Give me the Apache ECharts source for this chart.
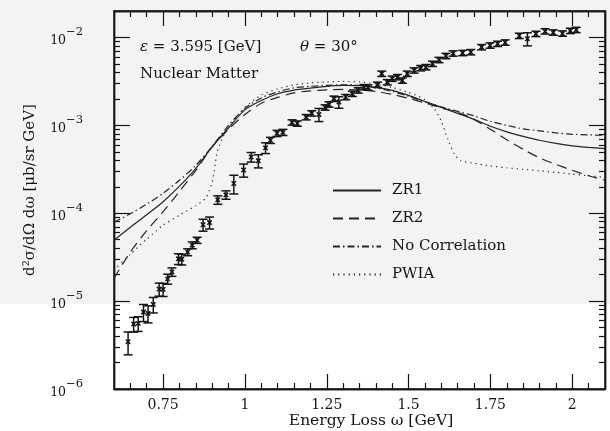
<!DOCTYPE html>
<html>
<head>
<meta charset="utf-8">
<script src="https://cdn.jsdelivr.net/npm/echarts@6/dist/echarts.min.js"></script>
<style>
  html, body { margin: 0; padding: 0; background: #fff; }
  #chart { width: 610px; height: 431px; }
</style>
</head>
<body>
<div id="chart"></div>
<script>
// Inclusive cross section, epsilon = 3.595 GeV, theta = 30 deg, nuclear matter.
// Measured points: energy loss omega [GeV], d2sigma/dOmega domega [ub/sr GeV], relative error.
const dataOmega = [
  0.643, 0.660, 0.674, 0.690, 0.704, 0.720, 0.738, 0.750, 0.764, 0.777,
  0.797, 0.807, 0.825, 0.839, 0.854, 0.872, 0.892, 0.917, 0.942, 0.966,
  0.996, 1.019, 1.041, 1.063, 1.078, 1.098, 1.116, 1.144, 1.160, 1.187,
  1.204, 1.226, 1.245, 1.257, 1.272, 1.287, 1.308, 1.328, 1.346, 1.364,
  1.376, 1.405, 1.418, 1.435, 1.450, 1.466, 1.481, 1.496, 1.517, 1.537,
  1.553, 1.573, 1.593, 1.614, 1.636, 1.665, 1.690, 1.723, 1.749, 1.772,
  1.795, 1.838, 1.863, 1.889, 1.917, 1.942, 1.970, 1.994, 2.012
];
const dataSigma = [
  3.45e-6, 5.48e-6, 5.58e-6, 7.50e-6, 7.24e-6, 9.17e-6, 1.37e-5, 1.36e-5, 1.79e-5, 2.15e-5,
  3.03e-5, 3.00e-5, 3.61e-5, 4.33e-5, 4.93e-5, 7.39e-5, 7.83e-5, 1.42e-4, 1.62e-4, 2.18e-4,
  3.10e-4, 4.36e-4, 3.95e-4, 5.55e-4, 6.76e-4, 8.11e-4, 8.33e-4, 1.08e-3, 1.05e-3, 1.24e-3,
  1.37e-3, 1.33e-3, 1.60e-3, 1.73e-3, 2.01e-3, 1.84e-3, 2.10e-3, 2.29e-3, 2.50e-3, 2.72e-3,
  2.70e-3, 2.90e-3, 3.87e-3, 3.10e-3, 3.40e-3, 3.54e-3, 3.24e-3, 3.87e-3, 4.22e-3, 4.48e-3,
  4.60e-3, 5.02e-3, 5.55e-3, 6.16e-3, 6.58e-3, 6.67e-3, 6.81e-3, 7.76e-3, 8.11e-3, 8.48e-3,
  8.77e-3, 1.045e-2, 9.66e-3, 1.10e-2, 1.175e-2, 1.14e-2, 1.11e-2, 1.19e-2, 1.22e-2
];
const dataRelErr = [
  0.29, 0.19, 0.19, 0.22, 0.22, 0.20, 0.17, 0.17, 0.13, 0.11,
  0.14, 0.14, 0.09, 0.09, 0.08, 0.155, 0.155, 0.11, 0.11, 0.24,
  0.17, 0.125, 0.17, 0.14, 0.08, 0.08, 0.08, 0.07, 0.07, 0.07,
  0.07, 0.17, 0.07, 0.07, 0.07, 0.15, 0.07, 0.07, 0.07, 0.07,
  0.07, 0.07, 0.07, 0.07, 0.07, 0.07, 0.07, 0.07, 0.07, 0.07,
  0.07, 0.07, 0.07, 0.07, 0.07, 0.07, 0.07, 0.07, 0.07, 0.07,
  0.07, 0.07, 0.17, 0.07, 0.07, 0.07, 0.07, 0.07, 0.07
];

// Model calculations on a common omega grid.
const curveOmega = [
  0.60, 0.65, 0.70, 0.75, 0.80, 0.85, 0.90, 0.95, 1.00, 1.05,
  1.10, 1.15, 1.20, 1.25, 1.30, 1.35, 1.40, 1.45, 1.50, 1.55,
  1.60, 1.65, 1.70, 1.75, 1.80, 1.85, 1.90, 1.95, 2.00, 2.05, 2.10
];
const zr1 = [
  4.93e-5, 6.93e-5, 9.60e-5, 1.35e-4, 2.03e-4, 3.24e-4, 5.70e-4, 9.37e-4, 1.50e-3, 1.92e-3,
  2.29e-3, 2.52e-3, 2.65e-3, 2.78e-3, 2.85e-3, 2.83e-3, 2.70e-3, 2.50e-3, 2.19e-3, 1.87e-3,
  1.60e-3, 1.37e-3, 1.17e-3, 9.75e-4, 8.44e-4, 7.50e-4, 6.76e-4, 6.24e-4, 5.85e-4, 5.62e-4, 5.43e-4
];
const zr2 = [
  1.82e-5, 3.61e-5, 6.32e-5, 1.04e-4, 1.77e-4, 3.08e-4, 5.70e-4, 9.01e-4, 1.33e-3, 1.78e-3,
  2.08e-3, 2.34e-3, 2.47e-3, 2.53e-3, 2.56e-3, 2.53e-3, 2.43e-3, 2.25e-3, 2.03e-3, 1.80e-3,
  1.58e-3, 1.41e-3, 1.17e-3, 9.01e-4, 6.84e-4, 5.33e-4, 4.27e-4, 3.60e-4, 3.08e-4, 2.67e-4, 2.37e-4
];
const noCorrelation = [
  7.91e-5, 9.86e-5, 1.27e-4, 1.69e-4, 2.37e-4, 3.51e-4, 5.77e-4, 1.00e-3, 1.56e-3, 2.05e-3,
  2.40e-3, 2.67e-3, 2.78e-3, 2.85e-3, 2.89e-3, 2.85e-3, 2.67e-3, 2.43e-3, 2.14e-3, 1.85e-3,
  1.62e-3, 1.44e-3, 1.28e-3, 1.11e-3, 1.00e-3, 9.12e-4, 8.66e-4, 8.22e-4, 7.91e-4, 7.80e-4, 7.70e-4
];
const pwiaOmega = [
  0.60, 0.65, 0.70, 0.75, 0.80, 0.85, 0.88, 0.90, 0.915, 0.93,
  0.95, 1.00, 1.05, 1.10, 1.15, 1.20, 1.25, 1.30, 1.35, 1.40,
  1.45, 1.50, 1.55, 1.58, 1.60, 1.62, 1.64, 1.66, 1.70, 1.75,
  1.80, 1.85, 1.90, 1.95, 2.00, 2.05, 2.10
];
const pwia = [
  2.25e-5, 3.42e-5, 5.07e-5, 7.31e-5, 9.49e-5, 1.22e-4, 1.48e-4, 2.25e-4, 4.93e-4, 6.93e-4,
  9.49e-4, 1.60e-3, 2.22e-3, 2.60e-3, 2.89e-3, 3.04e-3, 3.12e-3, 3.16e-3, 3.12e-3, 2.96e-3,
  2.70e-3, 2.37e-3, 1.97e-3, 1.52e-3, 1.11e-3, 6.93e-4, 4.68e-4, 3.95e-4, 3.70e-4, 3.46e-4,
  3.29e-4, 3.16e-4, 3.04e-4, 2.92e-4, 2.78e-4, 2.67e-4, 2.56e-4
];

// Axis ticks.
const xMajorTicks = [0.75, 1, 1.25, 1.5, 1.75, 2];
const xMinorTicks = [0.65, 0.7, 0.8, 0.85, 0.9, 0.95, 1.05, 1.1, 1.15, 1.2, 1.3, 1.35, 1.4, 1.45,
                     1.55, 1.6, 1.65, 1.7, 1.8, 1.85, 1.9, 1.95, 2.05];
const yMajorTicks = [1e-6, 1e-5, 1e-4, 1e-3, 1e-2];
const yMinorTicks = [];
for (let d = -6; d <= -3; d++) {
  for (let m = 2; m <= 9; m++) yMinorTicks.push(m * Math.pow(10, d));
}

const FONT = '"DejaVu Serif", "Liberation Serif", serif';
const INK = '#141414';
const LINE = '#262626';

const X_MIN = 0.6, X_MAX = 2.1, Y_MIN = 1e-6, Y_MAX = 0.02;

const axisLineStyle = { show: true, onZero: false, lineStyle: { color: INK, width: 1.4 } };

function xAxisDef(position, ticks, len, labels) {
  return {
    type: 'value', min: X_MIN, max: X_MAX, position: position,
    axisLine: axisLineStyle, splitLine: { show: false },
    axisTick: { show: true, inside: true, length: len, customValues: ticks,
                lineStyle: { color: INK, width: 1.2 } },
    axisLabel: labels ? {
      show: true, customValues: ticks, margin: 9,
      fontFamily: FONT, fontSize: 14, color: INK
    } : { show: false }
  };
}
function yAxisDef(position, ticks, len, labels) {
  return {
    type: 'log', logBase: 10, min: Y_MIN, max: Y_MAX, position: position,
    axisLine: axisLineStyle, splitLine: { show: false },
    axisTick: { show: true, inside: true, length: len, customValues: ticks,
                lineStyle: { color: INK, width: 1.2 } },
    axisLabel: labels ? {
      show: true, customValues: ticks, margin: 31,
      formatter: function (v) {
        const e = Math.round(Math.log10(v));
        return '{b|10}{s|\u2212' + (-e) + '}';
      },
      rich: {
        b: { fontFamily: FONT, fontSize: 12.5, color: INK, padding: [7, 0, 0, 0] },
        s: { fontFamily: FONT, fontSize: 11.5, color: INK, padding: [0, 0, 10, 0] }
      }
    } : { show: false }
  };
}

const pointData = dataOmega.map((w, i) => [w, dataSigma[i], dataRelErr[i]]);

function renderErrorBar(params, api) {
  const w = api.value(0), s = api.value(1), e = api.value(2);
  const c = api.coord([w, s]);
  const hi = api.coord([w, s * (1 + e)]);
  const lo = api.coord([w, s * (1 - e)]);
  const cap = 4.5, m = 2.2;
  const st = { stroke: INK, lineWidth: 1.5 };
  return {
    type: 'group',
    children: [
      { type: 'line', shape: { x1: c[0], y1: hi[1], x2: c[0], y2: lo[1] }, style: st },
      { type: 'line', shape: { x1: c[0] - cap, y1: hi[1], x2: c[0] + cap, y2: hi[1] }, style: st },
      { type: 'line', shape: { x1: c[0] - cap, y1: lo[1], x2: c[0] + cap, y2: lo[1] }, style: st },
      { type: 'line', shape: { x1: c[0] - m, y1: c[1] - m, x2: c[0] + m, y2: c[1] + m }, style: st },
      { type: 'line', shape: { x1: c[0] - m, y1: c[1] + m, x2: c[0] + m, y2: c[1] - m }, style: st }
    ]
  };
}

function curve(name, xs, ys, dash, smooth) {
  return {
    name: name, type: 'line', xAxisIndex: 0, yAxisIndex: 0,
    data: xs.map((x, i) => [x, ys[i]]),
    symbol: 'none', smooth: smooth, silent: true, z: 3,
    itemStyle: { color: LINE },
    lineStyle: { color: LINE, width: 1.2, type: dash }
  };
}

const chart = echarts.init(document.getElementById('chart'), null, { renderer: 'canvas' });
chart.setOption({
  animation: false,
  backgroundColor: '#ffffff',
  grid: { left: 114, right: 5, top: 11, bottom: 42, show: true,
          borderColor: INK, borderWidth: 1.4, backgroundColor: 'transparent' },
  xAxis: [
    xAxisDef('bottom', xMajorTicks, 15, true),
    xAxisDef('bottom', xMinorTicks, 6, false),
    xAxisDef('top', xMajorTicks, 15, false),
    xAxisDef('top', xMinorTicks, 6, false)
  ],
  yAxis: [
    yAxisDef('left', yMajorTicks, 16, true),
    yAxisDef('left', yMinorTicks, 6, false),
    yAxisDef('right', yMajorTicks, 16, false),
    yAxisDef('right', yMinorTicks, 6, false)
  ],
  legend: {
    orient: 'vertical', left: 327, top: 178,
    itemWidth: 48, itemHeight: 14, itemGap: 13,
    selectedMode: false,
    itemStyle: { opacity: 0 },
    textStyle: { fontFamily: FONT, fontSize: 15, color: INK, padding: [0, 0, 0, 6] },
    data: ['ZR1', 'ZR2', 'No Correlation', 'PWIA']
  },
  graphic: [
    { type: 'rect', z: -100, silent: true,
      shape: { x: 0, y: 0, width: 610, height: 304 },
      style: { fill: '#f3f3f3' } },
    { type: 'text', x: 140, y: 47, silent: true,
      style: { text: '{i|\u03b5} = 3.595 [GeV]', font: '15px ' + FONT, fill: INK,
               verticalAlign: 'middle', textVerticalAlign: 'middle',
               rich: { i: { fontFamily: FONT, fontSize: 15, fontStyle: 'italic', fill: INK } } } },
    { type: 'text', x: 300, y: 47, silent: true,
      style: { text: '{i|\u03b8} = 30\u00b0', font: '15px ' + FONT, fill: INK,
               verticalAlign: 'middle', textVerticalAlign: 'middle',
               rich: { i: { fontFamily: FONT, fontSize: 15, fontStyle: 'italic', fill: INK } } } },
    { type: 'text', x: 140, y: 74, silent: true,
      style: { text: 'Nuclear Matter', font: '15px ' + FONT, fill: INK,
               verticalAlign: 'middle', textVerticalAlign: 'middle' } },
    { type: 'text', x: 371, y: 421, silent: true,
      style: { text: 'Energy Loss \u03c9 [GeV]', font: '15.5px ' + FONT, fill: INK,
               align: 'center', textAlign: 'center',
               verticalAlign: 'middle', textVerticalAlign: 'middle' } },
    { type: 'text', x: 30, y: 190, rotation: Math.PI / 2, silent: true,
      style: { text: 'd\u00b2\u03c3/d\u03a9 d\u03c9 [\u03bcb/sr GeV]', font: '15px ' + FONT, fill: INK,
               align: 'center', textAlign: 'center',
               verticalAlign: 'middle', textVerticalAlign: 'middle' } }
  ],
  series: [
    curve('ZR1', curveOmega, zr1, 'solid', 0.3),
    curve('ZR2', curveOmega, zr2, [10, 6], 0.3),
    curve('No Correlation', curveOmega, noCorrelation, [7, 3, 1.5, 3], 0.3),
    curve('PWIA', pwiaOmega, pwia, [1.2, 4], 0.2),
    {
      name: 'data', type: 'custom', xAxisIndex: 0, yAxisIndex: 0,
      data: pointData, renderItem: renderErrorBar, z: 4, silent: true,
      encode: { x: 0, y: 1 }
    }
  ]
});
</script>
</body>
</html>
